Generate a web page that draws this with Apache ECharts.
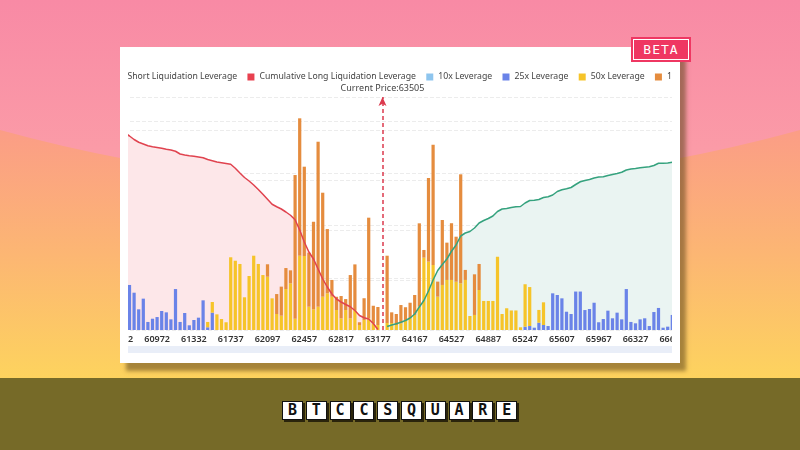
<!DOCTYPE html>
<html>
<head>
<meta charset="utf-8">
<script src="https://cdn.jsdelivr.net/npm/echarts@6/dist/echarts.min.js"></script>
<style>
  html, body { margin: 0; padding: 0; }
  body {
    width: 800px; height: 450px; overflow: hidden; position: relative;
    background: linear-gradient(#f88aa5 0px, #fb9ba7 150px);
    font-family: 'Noto Sans', sans-serif;
  }
  #arc { position: absolute; left: 0; top: 0; }
  #band { position: absolute; left: 0; top: 378px; width: 800px; height: 72px; background: #766a28; }
  #card {
    position: absolute; left: 120px; top: 47px; width: 560px; height: 316px;
    background: #fff; box-shadow: 6px 8px 4px rgba(95, 70, 25, 0.55);
  }
  #chart {
    position: absolute; left: 0; top: 0; width: 800px; height: 450px;
    clip-path: inset(47px 128px 87px 128px);
  }
  #beta {
    position: absolute; left: 631px; top: 37px; width: 60px; height: 25px;
    background: #ef3762; outline: 1px solid #fff; outline-offset: -3px;
    color: #fff; font: 13px 'DejaVu Sans Mono', monospace; line-height: 25px;
    text-align: center; letter-spacing: 1px;
  }
  #logo { position: absolute; left: 282px; top: 401px; display: flex; gap: 2.8px; }
  #logo span {
    width: 19px; height: 17px; background: #fff; border: 1px solid #111;
    box-shadow: 2px 2px 0 #2a240c; color: #111;
    font: bold 15px 'DejaVu Sans Mono', monospace; line-height: 17px; text-align: center;
  }
</style>
</head>
<body>
<svg id="arc" width="800" height="378">
  <defs>
    <linearGradient id="warm" gradientUnits="userSpaceOnUse" x1="0" y1="130" x2="0" y2="378">
      <stop offset="0" stop-color="#fb9d86"/>
      <stop offset="0.5" stop-color="#fcb673"/>
      <stop offset="1" stop-color="#fdd35e"/>
    </linearGradient>
  </defs>
  <path d="M0,130 Q400,240 800,130 L800,378 L0,378 Z" fill="url(#warm)"/>
</svg>
<div id="band"></div>
<div id="card"></div>
<div id="chart"></div>
<div id="beta">BETA</div>
<div id="logo"><span>B</span><span>T</span><span>C</span><span>C</span><span>S</span><span>Q</span><span>U</span><span>A</span><span>R</span><span>E</span></div>
<script>
// price levels (x categories)
const prices = [
  60612, 60657, 60702, 60747, 60792, 60837, 60882, 60927, 60972, 61017,
  61062, 61107, 61152, 61197, 61242, 61287, 61332, 61377, 61422, 61467,
  61512, 61557, 61602, 61692, 61737, 61782, 61827, 61872, 61917, 61962,
  62007, 62052, 62097, 62142, 62187, 62232, 62277, 62322, 62367, 62412,
  62457, 62502, 62547, 62592, 62637, 62682, 62727, 62772, 62817, 62862,
  62907, 62952, 62997, 63042, 63087, 63132, 63177, 63505, 63897, 63942,
  63987, 64032, 64077, 64122, 64167, 64212, 64257, 64302, 64347, 64392,
  64437, 64482, 64527, 64572, 64617, 64662, 64707, 64752, 64797, 64842,
  64887, 64932, 64977, 65022, 65067, 65112, 65157, 65202, 65247, 65292,
  65337, 65382, 65427, 65472, 65517, 65562, 65607, 65652, 65697, 65742,
  65787, 65832, 65877, 65922, 65967, 66012, 66057, 66102, 66147, 66192,
  66237, 66282, 66327, 66372, 66417, 66462, 66507, 66552, 66597, 66642,
  66687, 66732
];
const currentPrice = '63505';

const lev10 = [];
const lev25 = [null, null,
  43.1, 35.7, 19.8, 30, 7.7, 10.8, 12.4, 18.2, 16.9, 10.2,
  39.2, 7.7, 16.3, 4.5, 9.6, 11.8, 28.4, 2.6, 16.6, 0,
  0, 0, 0, 0, 0, 0, 0, 0, 0, 0,
  0, 0, 0, 0, 0, 0, 0, 0, 0, 0,
  0, 0, 0, 0, 0, 0, 0, 0, 0, 0,
  0, 0, 0, 0, 0, 0, 0, 0, 0, 0,
  0, 0, 0, 0, 0, 0, 0, 0, 0, 0,
  0, 0, 0, 0, 0, 0, 0, 0, 0, 0,
  0, 0, 0, 0, 0, 0, 3.2, 3.8, 2.2, 7,
  4.8, 3.8, 35.1, 33.5, 30.3, 17.5, 15.3, 36.8, 36.8, 19.1,
  20.1, 26.1, 7.4, 10.5, 18.5, 11.2, 16.6, 10.2, 39.2, 7.7,
  6.4, 10.2, 11.2, 3.8, 17.2, 21.1, 2.2, 3.2, 14.4, 0
];
const lev50 = [null, null,
  0, 0, 0, 0, 0, 0, 0, 0, 0, 0,
  0, 0, 0, 0, 0, 0, 0, 5.1, 10.2, 15,
  10.5, 7.4, 69.6, 66.3, 63.2, 31.3, 51.7, 71.1, 63.2, 52.6,
  51, 30.3, 15.3, 13.7, 39.2, 44.7, 10.8, 71.1, 70.8, 22.3,
  19.8, 22.3, 31.9, 35.1, 31.9, 19.1, 11.2, 19.1, 11.2, 19.1,
  4.8, 9.6, 11.2, 6.4, 4.8, 0, 6.7, 6.7, 4.8, 6.4,
  9.6, 11.5, 14.4, 22.3, 69.2, 65.4, 62.2, 31.9, 43.1, 47.9,
  47.9, 46.2, 44.7, 47.9, 13.4, 14.4, 38.3, 27.8, 27.8, 27.8,
  70.1, 15.3, 20.8, 18.7, 18.7, 2.6, 40.6, 37.3, 0, 12.2,
  21.7, 0, 0, 0, 0, 0, 0, 0, 0, 0
];
const lev100 = [null, null,
  0, 0, 0, 0, 0, 0, 0, 0, 0, 0,
  0, 0, 0, 0, 0, 0, 0, 0, 0, 0,
  0, 0, 0, 0, 0, 0, 0, 0, 0, 0,
  11.9, 0, 19.1, 27.8, 20.1, 12.4, 137.5, 131.5, 85.5, 51.7,
  83.8, 157.9, 99.5, 61.5, 16, 12.7, 21.3, 10.5, 41.4, 43.7,
  2.6, 20.8, 96.3, 16.8, 17.2, 0, 64.4, 10.2, 10.5, 17.5,
  12.2, 14.6, 19.1, 79.8, 7.4, 80.1, 115.1, 14.4, 62.2, 35.7,
  54.3, 43.1, 104.3, 9.6, 0, 38.9, 24.9, 0, 0, 0
];
// cumulative long, from the left edge down to the current price
const cumLong = [796, 788,
  776, 762, 751, 744, 737, 733, 730, 727, 723, 720,
  715, 704, 700, 697, 695, 692, 689, 682, 677, 672,
  669, 666, 663, 647, 628, 610, 596, 580, 562, 543,
  523, 503, 493, 484, 472, 459, 441, 400, 352, 312,
  284, 244, 204, 172, 144, 124, 112, 102, 93, 78,
  58, 49, 44, 26, 2
];
// cumulative short, from just above the current price to the right edge
const cumShort = [
  14, 20, 25, 31, 38, 48, 64, 92, 118, 156,
  200, 238, 262, 284, 315, 340, 376, 388, 394, 408,
  428, 438, 446, 456, 474, 484, 486, 490, 493, 494,
  508, 518, 519, 522, 530, 533, 540, 554, 561, 565,
  570, 582, 593, 598, 602, 608, 612, 613, 618, 622,
  626, 631, 640, 644, 646, 649, 651, 653, 658, 667,
  667, 668, 671, 674
];
const cumShortData = new Array(58).fill(null).concat(cumShort);

const names = [
  'Cumulative Short Liquidation Leverage',
  'Cumulative Long Liquidation Leverage',
  '10x Leverage', '25x Leverage', '50x Leverage', '100x Leverage'
];

const chart = echarts.init(document.getElementById('chart'));

const barBase = { type: 'bar', stack: 'lev', yAxisIndex: 0, barCategoryGap: '30%', z: 2 };

chart.setOption({
  animation: false,
  legend: {
    data: names, left: 62, right: 0, top: 67.5,
    icon: 'rect', itemWidth: 7, itemHeight: 7, itemGap: 10.3,
    textStyle: { fontSize: 8.7, color: '#444', fontFamily: 'Noto Sans' }
  },
  grid: { left: 118, right: 120.8, top: 97, bottom: 120 },
  xAxis: {
    type: 'category',
    data: prices.map(String),
    axisLine: { show: false },
    axisTick: { show: false },
    axisLabel: { interval: 7, margin: 5, fontSize: 9, fontWeight: 600, color: '#333', fontFamily: 'Noto Sans' }
  },
  yAxis: [
    { type: 'value', min: 0, max: 223, interval: 50, axisLabel: { show: false },
      splitLine: { lineStyle: { type: 'dashed', color: '#ececec' } } },
    { type: 'value', min: 0, max: 932, interval: 200, axisLabel: { show: false },
      splitLine: { lineStyle: { type: 'dashed', color: '#ececec' } } }
  ],
  dataZoom: [{
    type: 'slider', xAxisIndex: 0, start: 0, end: 100,
    left: 118, right: 120.8, top: 346, height: 7,
    showDetail: false, showDataShadow: false, brushSelect: false,
    backgroundColor: 'transparent', borderColor: 'transparent',
    fillerColor: '#e9eef8', handleSize: 0, moveHandleSize: 0
  }],
  series: [
    { name: 'longArea', type: 'line', yAxisIndex: 1, data: cumLong, symbol: 'none', silent: true, z: 1,
      lineStyle: { width: 0 }, areaStyle: { color: '#fde7e9', opacity: 1 } },
    { name: 'shortArea', type: 'line', yAxisIndex: 1, data: cumShortData, symbol: 'none', silent: true, z: 1,
      lineStyle: { width: 0 }, areaStyle: { color: '#eaf4f2', opacity: 1 } },
    Object.assign({ name: names[2], data: lev10, itemStyle: { color: '#8ec5ee' } }, barBase),
    Object.assign({ name: names[3], data: lev25, itemStyle: { color: '#6a83e8' } }, barBase),
    Object.assign({ name: names[4], data: lev50, itemStyle: { color: '#f6c429' } }, barBase),
    Object.assign({
      name: names[5], data: lev100, itemStyle: { color: '#e58c3e' },
      markLine: {
        silent: true,
        symbol: ['none', 'arrow'],
        symbolSize: [6, 9],
        lineStyle: { type: [4, 3], color: '#dc3a4e', width: 1.5 },
        label: { formatter: 'Current Price:' + currentPrice, position: 'end', distance: 4,
          fontSize: 9, color: '#444', fontFamily: 'Noto Sans' },
        data: [{ xAxis: currentPrice }]
      }
    }, barBase),
    { name: names[1], type: 'line', yAxisIndex: 1, data: cumLong, symbol: 'none', z: 3,
      lineStyle: { width: 1.5, color: '#e0434f' }, itemStyle: { color: '#e8414f' } },
    { name: names[0], type: 'line', yAxisIndex: 1, data: cumShortData, symbol: 'none', z: 3,
      lineStyle: { width: 1.5, color: '#35a27e' }, itemStyle: { color: '#35a27e' } }
  ]
});
</script>
</body>
</html>
